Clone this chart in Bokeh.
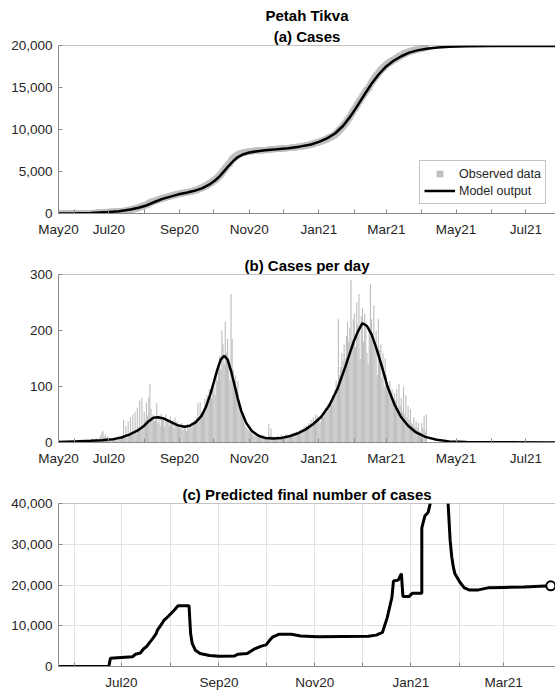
import pandas as pd
from bokeh.plotting import figure
from bokeh.layouts import column
from bokeh.models import (FixedTicker, DatetimeTickFormatter, NumeralTickFormatter,
                          Title, Legend, LegendItem, Range1d, Span)
from bokeh.embed import file_html
from bokeh.resources import INLINE

# ---------------- data ----------------
obs_start = "2020-05-18"
cases_may20 = [8, 2, 1, 0, 1, 0, 2, 1, 0, 1, 0, 1, 2, 0]
cases_jun20 = [1, 0, 2, 1, 0, 3, 1, 2, 4, 2, 1, 3, 5, 2, 3, 6, 4, 3, 5, 8, 6, 4, 9, 12, 18, 20, 10, 14, 8, 11]
cases_jul20 = [3, 5, 2, 6, 4, 8, 5, 7, 4, 9, 6, 8, 10, 40, 12, 30, 8, 38, 15, 45, 12, 50, 18, 55, 15, 62, 20, 75, 22, 80, 28]
cases_aug20 = [55, 40, 72, 48, 80, 105, 60, 45, 50, 38, 42, 70, 35, 48, 30, 52, 40, 45, 28, 50, 38, 42, 30, 47, 35, 40, 25, 45, 32, 38, 30]
cases_sep20 = [30, 25, 35, 22, 28, 26, 20, 33, 24, 30, 27, 36, 29, 40, 33, 45, 70, 42, 72, 52, 48, 62, 78, 58, 85, 72, 95, 88, 80, 105]
cases_oct20 = [100, 85, 120, 110, 140, 155, 130, 200, 175, 140, 215, 160, 185, 150, 110, 265, 185, 130, 100, 120, 85, 110, 70, 60, 50, 45, 38, 32, 28, 25, 22]
cases_nov20 = [20, 18, 25, 15, 12, 18, 10, 14, 8, 12, 10, 7, 9, 12, 6, 10, 8, 33, 12, 25, 9, 11, 7, 10, 8, 12, 9, 11, 14, 10]
cases_dec20 = [12, 10, 15, 11, 14, 9, 16, 13, 18, 12, 15, 20, 14, 17, 22, 16, 25, 19, 28, 22, 30, 24, 35, 28, 40, 32, 45, 38, 50, 42, 48]
cases_jan21 = [40, 35, 48, 52, 45, 58, 62, 55, 70, 60, 75, 68, 85, 80, 95, 110, 90, 220, 120, 135, 160, 145, 175, 150, 190, 215, 180, 205, 290, 185, 220]
cases_feb21 = [230, 170, 250, 210, 265, 150, 225, 240, 180, 230, 215, 160, 140, 205, 283, 220, 195, 245, 180, 200, 120, 220, 165, 175, 115, 160, 100, 150]
cases_mar21 = [120, 100, 90, 110, 80, 95, 70, 88, 75, 95, 60, 105, 65, 80, 55, 100, 50, 85, 45, 65, 40, 60, 35, 32, 45, 28, 38, 25, 35, 20, 18]
cases_apr21 = [35, 25, 48, 20, 50]

model_cum_dates = ["2020-05-18", "2020-06-01", "2020-06-15", "2020-07-01", "2020-07-10", "2020-07-20",
                   "2020-07-27", "2020-08-03", "2020-08-10", "2020-08-17", "2020-08-24", "2020-08-31",
                   "2020-09-07", "2020-09-14", "2020-09-21", "2020-09-28", "2020-10-02", "2020-10-06",
                   "2020-10-10", "2020-10-14", "2020-10-18", "2020-10-22", "2020-10-27", "2020-11-01",
                   "2020-11-08", "2020-11-15", "2020-11-25", "2020-12-05", "2020-12-15", "2020-12-25",
                   "2021-01-01", "2021-01-08", "2021-01-15", "2021-01-22", "2021-01-29", "2021-02-04",
                   "2021-02-10", "2021-02-16", "2021-02-22", "2021-02-28", "2021-03-07", "2021-03-14",
                   "2021-03-21", "2021-03-28", "2021-04-05", "2021-04-15", "2021-04-25", "2021-05-10",
                   "2021-06-01", "2021-07-27"]
model_cum = [10, 25, 70, 180, 280, 480, 690, 960, 1370, 1740, 2010, 2280, 2480, 2700, 3020, 3530, 3930, 4420,
             5050, 5680, 6250, 6720, 7060, 7260, 7420, 7520, 7640, 7780, 7960, 8220, 8520, 8950, 9520, 10420,
             11650, 12900, 14200, 15450, 16520, 17400, 18150, 18720, 19150, 19420, 19610, 19760, 19860, 19910,
             19935, 19945]

model_daily_dates = ["2020-05-18", "2020-06-01", "2020-06-15", "2020-06-25", "2020-07-05", "2020-07-12",
                     "2020-07-19", "2020-07-26", "2020-08-01", "2020-08-05", "2020-08-09", "2020-08-13",
                     "2020-08-18", "2020-08-24", "2020-08-30", "2020-09-05", "2020-09-10", "2020-09-15",
                     "2020-09-20", "2020-09-24", "2020-09-28", "2020-10-01", "2020-10-04", "2020-10-07",
                     "2020-10-10", "2020-10-13", "2020-10-16", "2020-10-19", "2020-10-22", "2020-10-25",
                     "2020-10-29", "2020-11-03", "2020-11-09", "2020-11-15", "2020-11-22", "2020-11-29",
                     "2020-12-06", "2020-12-13", "2020-12-20", "2020-12-27", "2021-01-03", "2021-01-10",
                     "2021-01-17", "2021-01-24", "2021-01-31", "2021-02-04", "2021-02-08", "2021-02-12",
                     "2021-02-16", "2021-02-20", "2021-02-25", "2021-03-02", "2021-03-08", "2021-03-14",
                     "2021-03-20", "2021-03-27", "2021-04-04", "2021-04-14", "2021-04-25", "2021-05-10",
                     "2021-06-01", "2021-07-27"]
model_daily = [1, 2, 3, 4, 6, 9, 14, 21, 30, 38, 44, 45, 43, 37, 31, 28, 30, 36, 47, 63, 87, 108, 130, 148,
               155, 148, 128, 103, 78, 56, 36, 21, 12, 8, 7, 8, 11, 16, 23, 33, 46, 66, 95, 135, 178, 198,
               213, 208, 193, 170, 136, 100, 68, 45, 30, 18, 10, 5, 2, 1, 0.3, 0.1]

pred_dates = ["2020-05-22", "2020-06-23", "2020-06-24", "2020-07-01", "2020-07-08", "2020-07-10",
              "2020-07-13", "2020-07-15", "2020-07-17", "2020-07-19", "2020-07-21", "2020-07-23",
              "2020-07-24", "2020-07-26", "2020-07-28", "2020-07-31", "2020-08-02", "2020-08-04",
              "2020-08-06", "2020-08-13", "2020-08-14", "2020-08-15", "2020-08-17", "2020-08-20",
              "2020-08-26", "2020-09-01", "2020-09-11", "2020-09-13", "2020-09-19", "2020-09-23",
              "2020-09-28", "2020-10-01", "2020-10-03", "2020-10-05", "2020-10-09", "2020-10-17",
              "2020-10-23", "2020-11-03", "2020-12-05", "2020-12-10", "2020-12-14", "2020-12-17",
              "2020-12-20", "2020-12-21", "2020-12-24", "2020-12-26", "2020-12-27", "2020-12-31",
              "2021-01-02", "2021-01-08", "2021-01-08", "2021-01-10", "2021-01-12", "2021-01-13",
              "2021-01-15", "2021-01-20", "2021-01-24", "2021-01-25", "2021-01-26", "2021-01-27",
              "2021-01-28", "2021-01-29", "2021-02-01", "2021-02-04", "2021-02-07", "2021-02-13",
              "2021-02-19", "2021-03-01", "2021-03-14", "2021-03-31"]
pred_values = [0, 0, 2000, 2200, 2400, 3000, 3300, 4300, 4900, 5900, 6900, 8000, 9000, 10100, 11300, 12400,
               13200, 14000, 14900, 14900, 8100, 5700, 4000, 3200, 2700, 2500, 2600, 3000, 3200, 4200, 5000,
               5300, 6300, 7200, 7900, 7900, 7500, 7300, 7400, 7700, 8400, 12000, 17000, 21000, 21200, 22800,
               17200, 17200, 18000, 18000, 34000, 37000, 37800, 39400, 43000, 48000, 45000, 38000, 31000,
               27000, 24500, 22800, 20800, 19300, 18800, 18800, 19300, 19400, 19500, 19800]

ab_range = ("2020-05-18", "2021-07-27")
ab_major = ["2020-05-18", "2020-07-01", "2020-09-01", "2020-11-01", "2021-01-01", "2021-03-01",
            "2021-05-01", "2021-07-01"]
ab_minor = ["2020-06-01", "2020-08-01", "2020-10-01", "2020-12-01", "2021-02-01", "2021-04-01", "2021-06-01"]
c_range = ("2020-05-22", "2021-04-03")
c_major = ["2020-07-01", "2020-09-01", "2020-11-01", "2021-01-01", "2021-03-01"]
c_minor = ["2020-06-01", "2020-08-01", "2020-10-01", "2020-12-01", "2021-02-01"]
yticks_a = [0, 5000, 10000, 15000, 20000]
yticks_b = [0, 100, 200, 300]
yticks_c = [0, 10000, 20000, 30000, 40000]

# ---------------- derived ----------------
obs_daily = (cases_may20 + cases_jun20 + cases_jul20 + cases_aug20 + cases_sep20 + cases_oct20 +
             cases_nov20 + cases_dec20 + cases_jan21 + cases_feb21 + cases_mar21 + cases_apr21)
obs_dates = pd.date_range(obs_start, periods=len(obs_daily), freq="D")
obs_cum = pd.Series(obs_daily).cumsum().tolist()


def ms(s):
    return pd.Timestamp(s).value / 1e6


FONT = "Liberation Sans"
AXC = "#8a8a8a"
TXT = "#262626"
GRID = "#e2e2e2"


def style_axis(ax):
    ax.axis_line_color = AXC
    ax.axis_line_width = 1
    ax.major_tick_line_color = AXC
    ax.minor_tick_line_color = AXC
    ax.major_tick_in = 4
    ax.major_tick_out = 0
    ax.minor_tick_in = 4
    ax.minor_tick_out = 0
    ax.major_label_text_font = FONT
    ax.major_label_text_color = TXT
    ax.major_label_text_font_size = "13.5px"


def make_fig(h, mbt, mbb, xr, ymax, yticks, major, minor, titles, standoffs, grid=False):
    p = figure(width=555, height=h, x_axis_type="datetime",
               x_range=Range1d(ms(xr[0]), ms(xr[1])), y_range=Range1d(0, ymax),
               output_backend="svg", toolbar_location=None,
               min_border_left=58, min_border_right=0, min_border_top=mbt, min_border_bottom=mbb,
               background_fill_color="white", border_fill_color="white", outline_line_color=None)
    fmt = DatetimeTickFormatter(days="%b%y", months="%b%y", years="%b%y", hours="%b%y")
    xa = p.xaxis[0]
    xa.ticker = FixedTicker(ticks=[ms(t) for t in major], minor_ticks=[ms(t) for t in minor])
    xa.formatter = fmt
    style_axis(xa)
    xa.major_label_standoff = 8
    ya = p.yaxis[0]
    ya.ticker = FixedTicker(ticks=yticks)
    ya.formatter = NumeralTickFormatter(format="0,0")
    style_axis(ya)
    ya.major_label_standoff = 6
    ya.minor_tick_line_color = None
    p.add_layout(Span(location=ymax, dimension="width", line_color=AXC, line_width=1))
    for t, so in zip(titles, standoffs):
        p.add_layout(Title(text=t, align="center", text_font=FONT, text_font_size="15px",
                           text_font_style="bold", text_color="black", standoff=so), "above")
    if grid:
        p.xgrid.grid_line_color = GRID
        p.xgrid.minor_grid_line_color = GRID
        p.ygrid.grid_line_color = GRID
    else:
        p.xgrid.visible = False
        p.ygrid.visible = False
    return p


# (a) cumulative cases
pa = make_fig(240, 45, 27, ab_range, 20000, yticks_a, ab_major, ab_minor,
              ["(a) Cases", "Petah Tikva"], [2, 2])
r_obs = pa.scatter(obs_dates, obs_cum, marker="square", size=6, fill_color="#c0c0c0", line_color=None)
r_mod = pa.line([pd.Timestamp(d) for d in model_cum_dates], model_cum, line_color="black", line_width=2.5)
leg = Legend(items=[LegendItem(label="Observed data", renderers=[r_obs]),
                    LegendItem(label="Model output", renderers=[r_mod])],
             location="bottom_right", margin=9, padding=4, spacing=0,
             label_height=17, glyph_height=17, glyph_width=31, label_standoff=4,
             label_text_font=FONT, label_text_font_size="12.5px", label_text_color=TXT,
             border_line_color=AXC, border_line_width=1, background_fill_color="white",
             background_fill_alpha=1)
pa.add_layout(leg)

# (b) cases per day
pb = make_fig(230, 34, 28, ab_range, 300, yticks_b, ab_major, ab_minor, ["(b) Cases per day"], [1])
pb.vbar(x=obs_dates, top=obs_daily, width=86400000, fill_color="#bfbfbf", line_color=None)
pb.line([pd.Timestamp(d) for d in model_daily_dates], model_daily, line_color="black", line_width=2.5)

# (c) predicted final number of cases
pc = make_fig(222, 33, 23, c_range, 40000, yticks_c, c_major, c_minor,
              ["(c) Predicted final number of cases"], [2], grid=True)
pdates = [pd.Timestamp(d) for d in pred_dates]
pc.line(pdates, pred_values, line_color="black", line_width=3)
pc.scatter(pdates[-1:], pred_values[-1:], marker="circle", size=9, fill_color="white",
           line_color="black", line_width=2)

layout = column(pa, pb, pc, spacing=0)
open("out.html", "w").write(file_html(layout, INLINE))
